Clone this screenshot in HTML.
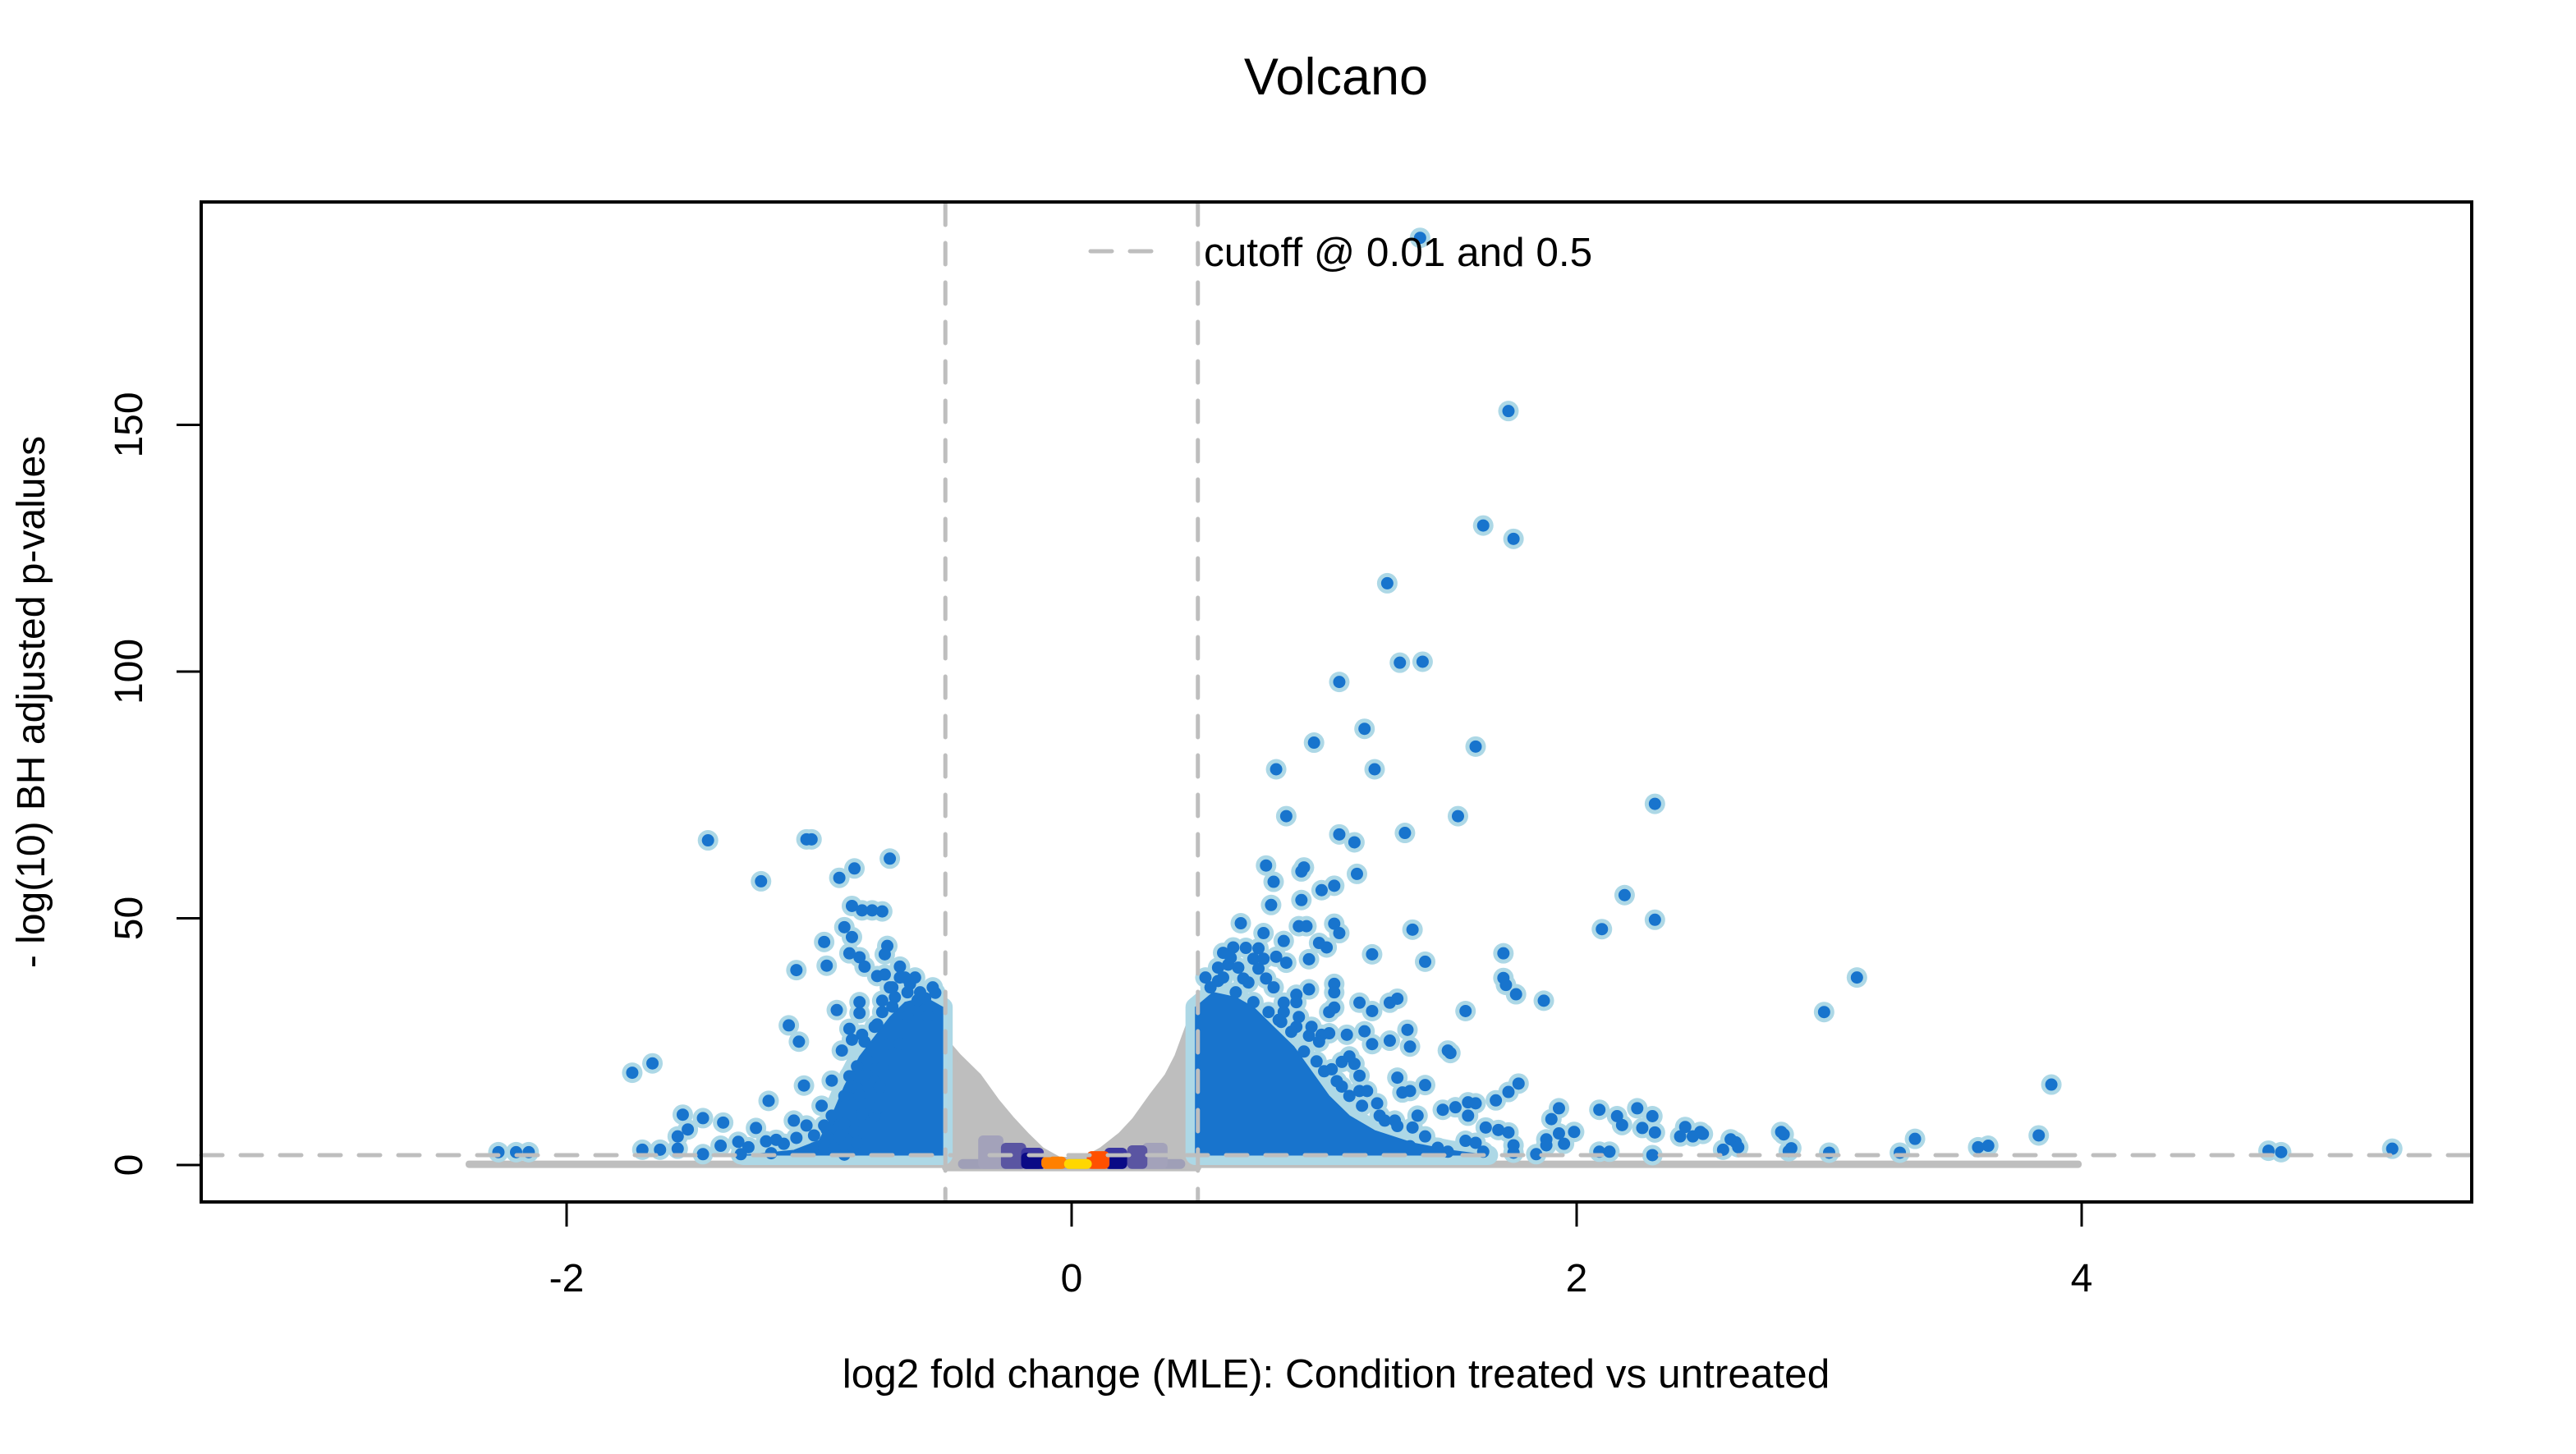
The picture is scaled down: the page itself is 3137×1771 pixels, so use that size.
<!DOCTYPE html>
<html><head><meta charset="utf-8"><title>Volcano</title>
<style>
html,body{margin:0;padding:0;background:#fff;}
svg{display:block;font-family:"Liberation Sans",Arial,sans-serif;}
</style></head>
<body>
<svg id="chart" width="3137" height="1771" viewBox="0 0 3137 1771" xmlns="http://www.w3.org/2000/svg">
<rect x="0" y="0" width="3137" height="1771" fill="#ffffff"/>
<text x="1627" y="115" font-size="63" text-anchor="middle">Volcano</text>
<g id="marks"></g>
<rect x="245" y="246" width="2765" height="1218" fill="none" stroke="#000" stroke-width="4"/>
<g id="axes"></g>
<text x="1627" y="1690" font-size="49.5" text-anchor="middle">log2 fold change (MLE): Condition treated vs untreated</text>
<text transform="translate(54,855) rotate(-90)" font-size="48" text-anchor="middle">- log(10) BH adjusted p-values</text>
<g>
<line x1="1328" y1="306" x2="1410" y2="306" stroke="#bebebe" stroke-width="5" stroke-dasharray="26 22" stroke-linecap="round"/>
<text x="1466" y="324" font-size="49.5">cutoff @ 0.01 and 0.5</text>
</g>
</svg>
<script>
// ---- data ----
const xTicks = [-2, 0, 2, 4];
const yTicks = [0, 50, 100, 150];
const pCutoff = 2;      // -log10(0.01)
const fcCutoff = 0.5;

// significant genes (log2FC, -log10 padj)
const sigX = [1.38,1.73,1.63,1.75,1.25,1.30,1.39,1.06,1.16,0.96,1.60,0.81,1.20,2.31,1.53,0.85,1.06,1.32,1.12,2.19,2.31,2.10,3.11,2.98,3.88,5.23,4.74,4.79,3.83,3.63,3.59,3.34,3.28,3.00,2.81,2.85,2.63,2.49,1.49,1.56,
0.77,0.80,0.92,0.91,1.13,0.99,1.04,0.79,0.91,0.67,0.76,0.90,0.93,1.04,1.06,1.35,1.19,1.40,0.64,0.60,0.74,0.84,0.98,1.01,0.62,0.72,0.76,0.81,0.85,0.94,0.58,0.68,0.77,0.80,0.74,1.04,1.04,0.94,0.89,0.89,0.84,1.14,1.19,1.26,1.29,1.87,1.71,1.72,1.76,1.71,
1.02,1.04,0.84,0.82,0.89,0.94,0.99,1.02,1.09,1.16,1.19,1.26,1.33,1.34,1.50,1.29,1.40,1.77,1.73,1.68,1.47,1.52,1.57,1.60,1.57,1.93,1.90,2.09,2.16,2.18,2.24,2.30,2.26,2.31,2.43,2.41,2.46,2.50,2.61,2.58,2.64,2.82,2.84,2.30,2.13,2.09,1.99,1.93,1.95,1.88,1.88,1.84,1.64,1.69,1.73,1.75,1.75,1.56,1.60,1.63,1.45,1.49,1.40,1.34,1.37,1.35,1.29,1.24,1.21,1.31,1.34,1.14,1.17,1.07,1.12,1.07,1.14,1.03,
0.55,0.60,0.65,0.70,0.72,0.78,0.83,0.87,0.92,0.97,1.00,1.05,1.10,1.15,1.22,0.58,0.63,0.69,0.66,0.53,1.28,1.10,0.98,0.90,0.95,
-1.44,-1.23,-1.05,-1.03,-0.72,-0.86,-0.92,-0.87,-0.83,-0.79,-0.75,-0.90,-0.87,-0.98,-0.73,-0.74,-0.88,-0.84,-0.82,-0.97,-1.09,-0.68,-0.77,-0.74,-0.68,-0.64,-0.71,-0.54,-0.61,-0.58,-0.93,-0.84,-0.84,-0.75,-0.71,-0.65,-0.57,-1.12,-1.08,-0.77,-0.88,-0.83,-0.87,-0.72,-0.68,-0.91,-0.81,-0.75,
-1.74,-1.66,-0.81,-0.78,-0.76,-0.85,-0.84,-0.95,-1.06,-1.20,-0.99,-0.83,-0.78,-0.77,-1.54,-1.52,-1.46,-1.38,-1.56,-1.56,-1.70,-1.63,-1.25,-1.21,-1.10,-1.05,-1.09,-1.32,-1.28,-1.31,-1.39,-1.46,-1.17,-1.14,-1.19,-0.97,-0.93,-0.90,-0.92,-1.02,-0.98,-0.94,-0.90,-0.86,-0.85,-2.27,-2.20,-2.15,
-0.55,-0.60,-0.65,-0.70,-0.75,-0.78,-0.82,-0.85,-0.88,-0.90,-0.95,-0.98,-1.02,-0.62,-0.66,-0.72];
const sigY = [187.9,152.8,129.6,126.9,117.9,101.8,102.0,97.9,88.4,85.6,84.8,80.2,80.2,73.2,70.7,70.7,67.0,67.3,65.4,54.7,49.7,47.8,38.0,31.0,16.3,3.3,2.9,2.6,6.0,3.9,3.6,5.3,2.5,2.5,6.7,3.4,4.6,6.7,23.2,31.2,
60.7,57.4,60.3,59.5,59.0,55.7,56.6,52.7,53.7,49.0,47.0,48.4,48.4,48.9,47.0,47.7,42.7,41.2,44.1,43.0,43.9,45.4,45.0,44.1,40.6,41.8,41.8,42.2,41.0,41.7,37.3,37.8,37.8,36.0,39.8,36.7,35.0,35.6,34.5,33.0,32.9,32.9,31.2,32.9,33.7,33.3,37.9,36.5,34.6,42.9,
31.0,31.9,31.0,29.4,28.0,26.2,26.4,26.7,26.4,27.1,24.5,25.2,27.4,24.0,22.7,17.7,16.2,16.5,14.8,13.1,11.2,11.7,12.7,12.5,10.0,11.5,9.3,11.2,9.9,8.1,11.5,9.9,7.5,6.6,7.7,5.8,5.8,6.3,5.2,3.1,3.6,6.2,2.8,2.0,2.7,2.7,6.7,6.4,4.3,5.2,4.0,2.2,7.6,7.1,6.6,4.0,2.5,4.9,4.5,2.7,3.5,2.7,5.8,3.8,10.0,7.6,7.9,9.0,12.5,14.7,15.0,15.0,15.0,15.9,20.5,20.9,18.1,19.4,
36,38,35,37,33,31,29,27,23,21,19,17,14,12,10,40,42,44,40,38,9,22,25,30,28,
65.8,57.5,66.0,66.0,62.1,60.1,58.2,52.5,51.6,51.6,51.4,48.2,46.2,45.2,44.4,42.7,42.9,42.1,40.2,40.4,39.5,40.2,38.3,38.6,38.0,36.7,36.0,34.9,33.4,33.8,31.4,33.0,30.8,33.3,32.1,30.1,30.2,28.3,25.0,28.5,27.6,26.4,25.4,24.6,24.6,23.2,21.2,19.8,
18.7,20.6,18.2,16.9,15.8,15.5,14.1,17.1,16.1,13.0,12.0,10.3,10.1,11.6,10.2,7.2,9.5,8.6,5.8,3.3,3.1,3.1,7.5,4.8,9.0,8.0,5.5,4.7,3.6,2.2,3.9,2.2,5.1,4.3,2.4,7.2,7.2,8.4,5.8,3.4,3.4,3.4,2.1,6.8,4.6,2.6,2.6,2.6,
36,35,35,34,31,28,25,20,18,14,10,8,6,38,38,36];

// dense significant clusters (outline vertices)
const upClusterX = [0.49,0.49,0.56,0.65,0.72,0.80,0.88,0.95,1.02,1.10,1.20,1.35,1.50,1.65];
const upClusterY = [2,32,35,34,32,28,24,19,14,10,7,4.5,3,2];
const downClusterX = [-0.51,-0.51,-0.58,-0.66,-0.72,-0.78,-0.84,-0.90,-0.95,-1.00,-1.10,-1.30];
const downClusterY = [2,32,34,33,30,26,22,16,10,5,3,2];

// non-significant genes: upper envelope of grey mass between cutoffs
const nsX = [-0.5,-0.45,-0.37,-0.30,-0.24,-0.18,-0.12,-0.05,0.05,0.12,0.195,0.25,0.32,0.38,0.42,0.47,0.5];
const nsY = [25,22,18,13,9.3,6,3,1,1,3,6,9,14,18,22,29,30];
// low grey band
const bandX = [-2.4, 4.0];
const bandTop = 0.9;
// density tiles near origin: x0, x1, top, colour
const tileX0 = [-0.45,-0.37,-0.28,-0.20,-0.20,0.28,0.22,0.13,0.13,-0.12,0.06,-0.03];
const tileX1 = [0.45,-0.27,-0.18,-0.11,-0.10,0.38,0.30,0.22,0.22,-0.02,0.15,0.08];
const tileTop = [1.2,6.0,4.5,3.5,2.5,4.5,4.0,3.5,2.5,1.7,2.8,1.2];
const tileCol = ["#9f9fb7","#a3a2ba","#5a55a2","#3b37a0","#0a0a86","#a3a2ba","#5a55a2","#3b37a0","#0a0a86","#ff8000","#ff5000","#ffd700"];

// ---- scales ----
const X = v => 1305 + 307.5 * v;
const Y = v => 1419 - 6.01 * v;
const NS = "http://www.w3.org/2000/svg";
const marks = document.getElementById('marks');
const axes = document.getElementById('axes');
function mk(tag, attrs, parent) {
  const e = document.createElementNS(NS, tag);
  for (const k in attrs) e.setAttribute(k, attrs[k]);
  parent.appendChild(e);
  return e;
}

// grey band
const band = mk('rect', {x: X(bandX[0]), y: Y(bandTop), width: X(bandX[1]) - X(bandX[0]), height: Y(-0.6) - Y(bandTop), fill: '#bebebe', rx: 4}, marks);



// grey V envelope
let pts = nsX.map((x, i) => X(x) + ',' + Y(nsY[i])).join(' ');
pts += ' ' + X(nsX[nsX.length - 1]) + ',' + Y(-0.6) + ' ' + X(nsX[0]) + ',' + Y(-0.6);
const nsPoly = mk('polygon', {points: pts, fill: '#bebebe', stroke: '#bebebe', 'stroke-width': 8, 'stroke-linejoin': 'round'}, marks);



// density tiles
tileX0.forEach((x0, i) => {
  const r = mk('rect', {x: X(x0), y: Y(tileTop[i]), width: X(tileX1[i]) - X(x0), height: Y(-0.8) - Y(tileTop[i]), fill: tileCol[i], rx: 6}, marks);
  
  
});

// clusters
function clusterPts(xs, ys) { return xs.map((x, i) => X(x) + ',' + Y(ys[i])).join(' '); }
[[upClusterX, upClusterY, 'up-cluster'], [downClusterX, downClusterY, 'down-cluster']].forEach(c => {
  const ring = mk('polygon', {points: clusterPts(c[0], c[1]), fill: '#add8e6', stroke: '#add8e6', 'stroke-width': 24, 'stroke-linejoin': 'round'}, marks);
  
  
});

// point halos
sigX.forEach((x, i) => {
  const c = mk('circle', {cx: X(x), cy: Y(sigY[i]), r: 12.5, fill: '#add8e6'}, marks);
  
  
});
[[upClusterX, upClusterY, 'up-cluster'], [downClusterX, downClusterY, 'down-cluster']].forEach(c => {
  const core = mk('polygon', {points: clusterPts(c[0], c[1]), fill: '#1874cd', stroke: '#1874cd', 'stroke-width': 1}, marks);
  
  
});
sigX.forEach((x, i) => {
  const c = mk('circle', {cx: X(x), cy: Y(sigY[i]), r: 7.5, fill: '#1874cd'}, marks);
  
  
});

// cutoff lines
const hl = mk('line', {x1: 245, x2: 3010, y1: Y(pCutoff), y2: Y(pCutoff), stroke: '#bebebe', 'stroke-width': 5, 'stroke-dasharray': '26 22', 'stroke-linecap': 'round'}, marks);


[-fcCutoff, fcCutoff].forEach(v => {
  const l = mk('line', {x1: X(v), x2: X(v), y1: 248, y2: 1462, stroke: '#bebebe', 'stroke-width': 5, 'stroke-dasharray': '26 22', 'stroke-linecap': 'round'}, marks);
  
  
});

// axes ticks
xTicks.forEach(t => {
  const l = mk('line', {x1: X(t), x2: X(t), y1: 1464, y2: 1494, stroke: '#000', 'stroke-width': 3}, axes);
  
  
  const tx = mk('text', {x: X(t), y: 1573, 'font-size': 48, 'text-anchor': 'middle'}, axes);
  tx.textContent = String(t);
  
  
});
yTicks.forEach(t => {
  const l = mk('line', {x1: 215, x2: 245, y1: Y(t), y2: Y(t), stroke: '#000', 'stroke-width': 3}, axes);
  
  
  const tx = mk('text', {transform: 'translate(173,' + Y(t) + ') rotate(-90)', 'font-size': 48, 'text-anchor': 'middle'}, axes);
  tx.textContent = String(t);
  
  
});
</script>
</body></html>
